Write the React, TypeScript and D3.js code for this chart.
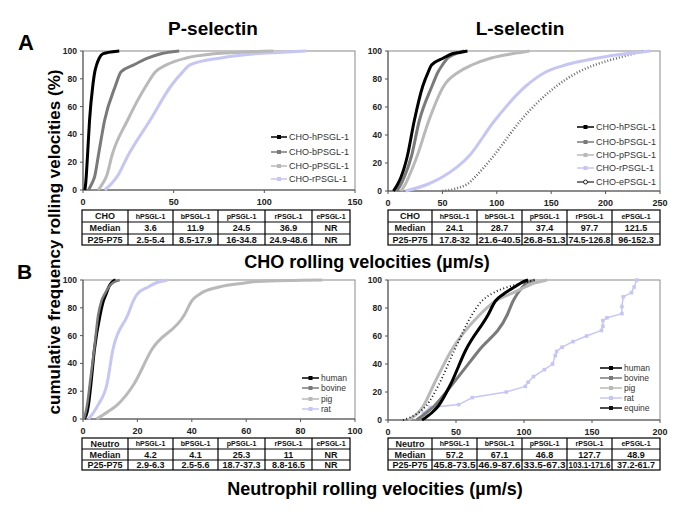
import * as d3 from 'd3';

// cumulative frequency levels (%) at which velocities were read
const LEVELS = [0, 5, 10, 25, 50, 75, 85, 90, 95, 98, 99, 100];

// A, P-selectin, CHO cells (um/s)
const choP_h = [1, 1.5, 1.8, 2.5, 3.6, 5.4, 6.5, 7.5, 9, 11, 14, 20];
const choP_b = [3, 5, 6.5, 8.5, 11.9, 17.9, 21, 28, 36, 43, 47, 53];
const choP_p = [8.5, 11, 13, 16, 24.5, 34.8, 40, 46, 57, 72, 85, 105];
const choP_r = [12, 16, 19, 24.9, 36.9, 48.6, 55, 59, 76, 95, 108, 123];

// A, L-selectin, CHO cells
const choL_h = [5, 9, 12, 17.8, 24.1, 32, 37, 40, 51, 59, 66, 73];
const choL_b = [8, 12, 15, 21.6, 28.7, 40.5, 46, 50, 55, 62, 65, 70];
const choL_p = [12, 16, 19, 26.8, 37.4, 51.3, 65, 77, 95, 114, 122, 130];
const choL_r = [16, 37, 50, 74.5, 97.7, 126.8, 145, 163, 193, 218, 230, 241];
const choL_e = [50, 73, 80, 97, 121.5, 155, 175, 190, 211, 225, 230, 235];

// B, P-selectin, neutrophils
const neuP_human = [0.5, 1.5, 2, 2.9, 4.2, 6.3, 7.5, 8.5, 9.5, 10.5, 11, 12];
const neuP_bovine = [0.3, 1, 1.5, 2.5, 4.1, 5.6, 6.8, 8, 9.5, 11, 12, 13.5];
const neuP_pig = [5, 9, 12.5, 18.7, 25.3, 37.3, 40, 43, 50, 60, 64, 88];
const neuP_rat = [2, 4, 5.5, 8.8, 11, 16.5, 18.5, 20, 24, 27, 29, 31];

// B, L-selectin, neutrophils
const neuL_human = [25, 32, 37, 45.8, 57.2, 73.5, 79, 85, 93, 98, 100, 103];
const neuL_bovine = [21, 28, 34, 46.9, 67.1, 87.6, 92, 95, 99, 102, 105, 108];
const neuL_pig = [15, 22, 26, 33.5, 46.8, 67.3, 79, 90, 101, 108, 113, 117];
const neuL_equine = [11, 22, 28, 37.2, 48.9, 61.7, 69, 76, 88, 100, 104, 108];
const neuL_ratVel = [26, 31, 52, 62, 87, 101, 103, 107, 115, 121, 123, 124, 128, 136, 146, 157, 158, 158, 161, 172, 172, 173, 179, 181, 183];
const neuL_ratPct = [5, 9, 11, 16, 20, 24, 27, 31, 36, 40, 46, 49, 52, 56, 60, 64, 67, 71, 73, 76, 81, 88, 91, 95, 100];

// tables
const tableCols = ['hPSGL-1', 'bPSGL-1', 'pPSGL-1', 'rPSGL-1', 'ePSGL-1'];
const choP_median = ['3.6', '11.9', '24.5', '36.9', 'NR'];
const choP_range = ['2.5-5.4', '8.5-17.9', '16-34.8', '24.9-48.6', 'NR'];
const choL_median = ['24.1', '28.7', '37.4', '97.7', '121.5'];
const choL_range = ['17.8-32', '21.6-40.5', '26.8-51.3', '74.5-126.8', '96-152.3'];
const neuP_median = ['4.2', '4.1', '25.3', '11', 'NR'];
const neuP_range = ['2.9-6.3', '2.5-5.6', '18.7-37.3', '8.8-16.5', 'NR'];
const neuL_median = ['57.2', '67.1', '46.8', '127.7', '48.9'];
const neuL_range = ['45.8-73.5', '46.9-87.6', '33.5-67.3', '103.1-171.6', '37.2-61.7'];

const yTicks = [0, 20, 40, 60, 80, 100];

const FONT = 'Liberation Sans, Arial, sans-serif';
const BLACK = '#000000';
const DARK = '#7a7a7a';
const LIGHT = '#b9b9b9';
const LAV = '#c6c6f4';

const Plot = ({ left, right, top, bottom, xmax, xticks, series, legend, legendFont }) => {
  const x = d3.scaleLinear().domain([0, xmax]).range([left, right]);
  const y = d3.scaleLinear().domain([0, 100]).range([bottom, top]);

  return (
    <g>
      <rect x={left} y={top} width={right - left} height={bottom - top} fill="none" stroke="#8a8a8a" strokeWidth={1} />
      <line x1={left} x2={left} y1={top} y2={bottom} stroke="#555" />
      <line x1={left} x2={right} y1={bottom} y2={bottom} stroke="#555" />
      {yTicks.map(t => (
        <g key={'y' + t}>
          <line x1={left - 3} x2={left} y1={y(t)} y2={y(t)} stroke="#555" />
          <text x={left - 6} y={y(t) + 3} textAnchor="end" fontSize={8.5} fontWeight="bold" fill="#222">{t}</text>
        </g>
      ))}
      {xticks.map(t => (
        <g key={'x' + t}>
          <line x1={x(t)} x2={x(t)} y1={bottom} y2={bottom + 3} stroke="#555" />
          <text x={x(t)} y={bottom + 15} textAnchor="middle" fontSize={9} fontWeight="bold" fill="#222">{t}</text>
        </g>
      ))}
      {series.map((s, i) => {
        const line = d3.line().x(d => x(d[0])).y(d => y(d[1]))
          .curve(s.markers ? d3.curveLinear : d3.curveMonotoneX);
        return (
          <g key={'s' + i}>
            <path d={line(s.vel.map((v, j) => [v, s.pct[j]]))} fill="none" stroke={s.color}
              strokeWidth={s.width} strokeDasharray={s.dash} strokeLinejoin="round" />
            {s.markers && s.vel.map((v, j) => (
              <rect key={j} x={x(v) - 1.8} y={y(s.pct[j]) - 1.8} width={3.6} height={3.6} fill={s.color} />
            ))}
          </g>
        );
      })}
      {legend.items.map((it, i) => {
        const ly = legend.ys[i];
        const mx = (legend.x1 + legend.x2) / 2;
        return (
          <g key={'l' + i}>
            <line x1={legend.x1} x2={legend.x2} y1={ly} y2={ly} stroke={it.color} strokeWidth={it.lw}
              strokeDasharray={it.dash} />
            {it.marker === 'circle'
              ? <circle cx={mx} cy={ly} r={2} fill="#fff" stroke="#222" strokeWidth={1} />
              : <rect x={mx - 2} y={ly - 2} width={4} height={4} fill={it.color} />}
            <text x={legend.x2 + 2} y={ly + 3} fontSize={legendFont} fill="#333">{it.label}</text>
          </g>
        );
      })}
    </g>
  );
};

const Table = ({ xs, ys, head, median, range }) => {
  const rows = [
    [head, ...tableCols],
    ['Median', ...median],
    ['P25-P75', ...range],
  ];
  return (
    <g>
      <rect x={xs[0]} y={ys[0]} width={xs[xs.length - 1] - xs[0]} height={ys[3] - ys[0]} fill="#fff" stroke="#000" strokeWidth={1.2} />
      {ys.slice(1, 3).map((yy, i) => (
        <line key={'h' + i} x1={xs[0]} x2={xs[xs.length - 1]} y1={yy} y2={yy} stroke="#000" strokeWidth={1.2} />
      ))}
      {xs.slice(1, xs.length - 1).map((xx, i) => (
        <line key={'v' + i} x1={xx} x2={xx} y1={ys[0]} y2={ys[3]} stroke="#000" strokeWidth={1.2} />
      ))}
      {rows.map((r, ri) => r.map((c, ci) => {
        const small = ri === 0 && ci > 0;
        const cx = (xs[ci] + xs[ci + 1]) / 2;
        const cy = (ys[ri] + ys[ri + 1]) / 2;
        const w = xs[ci + 1] - xs[ci];
        const fs = small ? 7 : 9;
        const fit = !small && c.length * fs * 0.53 > w - 3;
        return (
          <text key={ri + '-' + ci} x={cx} y={cy + (small ? 2.5 : 3.3)} textAnchor="middle"
            fontSize={fs} fontWeight="bold" fill="#111"
            textLength={fit ? w - 3 : undefined} lengthAdjust={fit ? 'spacingAndGlyphs' : undefined}>{c}</text>
        );
      }))}
    </g>
  );
};

const mk = (vel, color, width, extra = {}) => ({ vel, pct: LEVELS, color, width, ...extra });

export default function App() {
  const leftXs = [82, 128, 173, 218, 265, 312, 350];
  const rightXs = [388, 432, 477, 522, 567, 612, 660];

  return (
    <svg width={685} height={525} style={{ position: 'absolute', left: 0, top: 0, background: '#fff' }} fontFamily={FONT}>
      <rect width={685} height={525} fill="#fff" />
      <text x={213} y={35} textAnchor="middle" fontSize={19} fontWeight="bold">P-selectin</text>
      <text x={520} y={35} textAnchor="middle" fontSize={19} fontWeight="bold">L-selectin</text>
      <text x={18} y={50} fontSize={22} fontWeight="bold">A</text>
      <text x={17} y={279} fontSize={21} fontWeight="bold">B</text>
      <text transform="translate(60,242) rotate(-90)" textAnchor="middle" fontSize={17} fontWeight="bold">
        cumulative frequency rolling velocities (%)
      </text>

      <Plot left={83} right={355} top={51} bottom={190} xmax={150} xticks={[0, 50, 100, 150]}
        series={[
          mk(choP_r, LAV, 3), mk(choP_p, LIGHT, 3), mk(choP_b, DARK, 3), mk(choP_h, BLACK, 3),
        ]}
        legendFont={9}
        legend={{
          x1: 271, x2: 287, ys: [137, 152, 166, 179],
          items: [
            { label: 'CHO-hPSGL-1', color: BLACK, lw: 1.5 },
            { label: 'CHO-bPSGL-1', color: DARK, lw: 1.5 },
            { label: 'CHO-pPSGL-1', color: LIGHT, lw: 1.5 },
            { label: 'CHO-rPSGL-1', color: LAV, lw: 1.5 },
          ],
        }} />
      <Plot left={388} right={660} top={51} bottom={191} xmax={250} xticks={[0, 50, 100, 150, 200, 250]}
        series={[
          mk(choL_e, '#6a6a6a', 2.5, { dash: '1 2' }), mk(choL_r, LAV, 3), mk(choL_p, LIGHT, 3),
          mk(choL_b, DARK, 3), mk(choL_h, BLACK, 3),
        ]}
        legendFont={9}
        legend={{
          x1: 577, x2: 594, ys: [127, 142, 155, 168, 182],
          items: [
            { label: 'CHO-hPSGL-1', color: BLACK, lw: 1.5 },
            { label: 'CHO-bPSGL-1', color: DARK, lw: 1.5 },
            { label: 'CHO-pPSGL-1', color: LIGHT, lw: 1.5 },
            { label: 'CHO-rPSGL-1', color: LAV, lw: 1.5 },
            { label: 'CHO-ePSGL-1', color: '#222', lw: 1.2, marker: 'circle' },
          ],
        }} />
      <Plot left={83} right={355} top={280} bottom={419} xmax={100} xticks={[0, 20, 40, 60, 80, 100]}
        series={[
          mk(neuP_pig, LIGHT, 3), mk(neuP_rat, LAV, 3), mk(neuP_human, BLACK, 3), mk(neuP_bovine, DARK, 2.5),
        ]}
        legendFont={8.5}
        legend={{
          x1: 302, x2: 319, ys: [378, 388, 399, 409],
          items: [
            { label: 'human', color: BLACK, lw: 1.5 },
            { label: 'bovine', color: DARK, lw: 1.5 },
            { label: 'pig', color: LIGHT, lw: 1.5 },
            { label: 'rat', color: LAV, lw: 1.5 },
          ],
        }} />
      <Plot left={388} right={660} top={280} bottom={420} xmax={200} xticks={[0, 50, 100, 150, 200]}
        series={[
          { vel: neuL_ratVel, pct: neuL_ratPct, color: LAV, width: 1.5, markers: true },
          mk(neuL_bovine, DARK, 3), mk(neuL_pig, LIGHT, 3), mk(neuL_human, BLACK, 3),
          mk(neuL_equine, '#111', 1.8, { dash: '1 2.5' }),
        ]}
        legendFont={8.5}
        legend={{
          x1: 600, x2: 622, ys: [368, 378, 388, 398, 408],
          items: [
            { label: 'human', color: BLACK, lw: 1.5 },
            { label: 'bovine', color: DARK, lw: 1.5 },
            { label: 'pig', color: LIGHT, lw: 1.5 },
            { label: 'rat', color: LAV, lw: 1.5 },
            { label: 'equine', color: '#111', lw: 1.5 },
          ],
        }} />

      <Table xs={leftXs} ys={[210, 222, 234, 245]} head="CHO" median={choP_median} range={choP_range} />
      <Table xs={rightXs} ys={[210, 222, 234, 245]} head="CHO" median={choL_median} range={choL_range} />
      <Table xs={leftXs} ys={[438, 449, 460, 470]} head="Neutro" median={neuP_median} range={neuP_range} />
      <Table xs={rightXs} ys={[438, 449, 460, 470]} head="Neutro" median={neuL_median} range={neuL_range} />

      <text x={367} y={268} textAnchor="middle" fontSize={18} fontWeight="bold">CHO rolling velocities (µm/s)</text>
      <text x={375} y={495} textAnchor="middle" fontSize={18} fontWeight="bold">Neutrophil rolling velocities (µm/s)</text>
    </svg>
  );
}
